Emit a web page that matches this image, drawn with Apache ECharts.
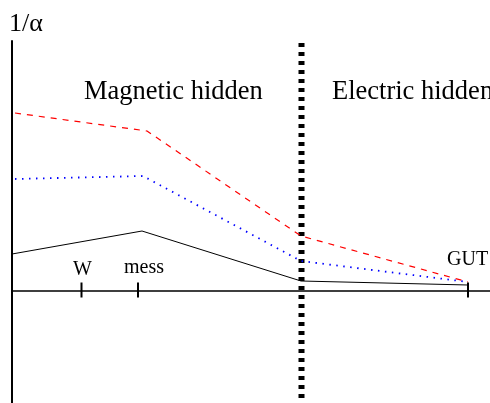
<!DOCTYPE html>
<html>
<head>
<meta charset="utf-8">
<script src="https://cdn.jsdelivr.net/npm/echarts@6/dist/echarts.min.js"></script>
<style>
html,body{margin:0;padding:0;background:#fff;}
#main{width:490px;height:403px;}
</style>
</head>
<body>
<div id="main"></div>
<script>
// x: energy scale (arbitrary log units), y: 1/alpha (arbitrary units)
const redDashed   = [[0.3, 17.8], [13.5, 16.0], [28.9, 5.5], [45.6, 0.9]];
const blueDotted  = [[0.3, 11.2], [13.1, 11.5], [28.9, 3.0], [45.6, 0.9]];
const blackSolid  = [[0.0, 3.7],  [13.0, 6.0],  [28.9, 1.0], [45.6, 0.6]];
const scaleTicks  = [6.95, 12.6, 45.6];
const scaleLabels = ['W', 'mess', 'GUT'];
const dividerX    = 28.95;
const yTitle = '1/\u03b1';
const regionLabels = ['Magnetic hidden', 'Electric hidden'];

const serif = '"Liberation Serif", "DejaVu Serif", serif';
const chart = echarts.init(document.getElementById('main'), null, {renderer: 'canvas'});

const labelOffsets = [[1, -20], [6, -22], [-21, -30]];
const labelAligns = ['center', 'center', 'left'];

chart.setOption({
  animation: false,
  backgroundColor: '#fff',
  grid: {left: 12, right: 0, top: 41, bottom: 0, containLabel: false},
  xAxis: {
    type: 'value', min: 0, max: 47.8,
    axisLine: {show: true, onZero: true, lineStyle: {color: '#000', width: 1.5}},
    axisTick: {show: false}, axisLabel: {show: false}, splitLine: {show: false}
  },
  yAxis: {
    type: 'value', min: -11.2, max: 25,
    axisLine: {show: true, onZero: false, lineStyle: {color: '#000', width: 2}},
    axisTick: {show: false}, axisLabel: {show: false}, splitLine: {show: false}
  },
  graphic: [
    {type: 'text', left: 9, top: 11, style: {text: yTitle, font: '26px ' + serif, fill: '#000'}},
    {type: 'text', left: 84, top: 79, style: {text: regionLabels[0], font: '26.5px ' + serif, fill: '#000'}},
    {type: 'text', left: 332, top: 79, style: {text: regionLabels[1], font: '26.5px ' + serif, fill: '#000'}}
  ],
  series: [
    {
      type: 'line', data: [[dividerX, 24.8], [dividerX, -11.2]], symbol: 'none', silent: true,
      lineStyle: {color: '#000', width: 6, type: [4, 5]}, z: 1
    },
    {
      type: 'line', data: blackSolid, symbol: 'none',
      lineStyle: {color: '#000', width: 1}, z: 3
    },
    {
      type: 'line', data: redDashed, symbol: 'none',
      lineStyle: {color: '#ff0000', width: 1.2, type: [6, 6]}, z: 3
    },
    {
      type: 'line', data: blueDotted, symbol: 'none',
      lineStyle: {color: '#0000ff', width: 1.8, type: [1.5, 5.5]}, z: 3
    },
    {
      type: 'scatter', symbol: 'rect', symbolSize: [2, 15], symbolOffset: [0, -1],
      itemStyle: {color: '#000', opacity: 1}, z: 4,
      data: scaleTicks.map((x, i) => ({
        value: [x, 0],
        label: {
          show: true, formatter: scaleLabels[i], position: 'inside',
          offset: labelOffsets[i], align: labelAligns[i], overflow: 'none',
          fontFamily: serif, fontSize: 20, color: '#000', opacity: 1
        }
      }))
    }
  ]
});
</script>
</body>
</html>
